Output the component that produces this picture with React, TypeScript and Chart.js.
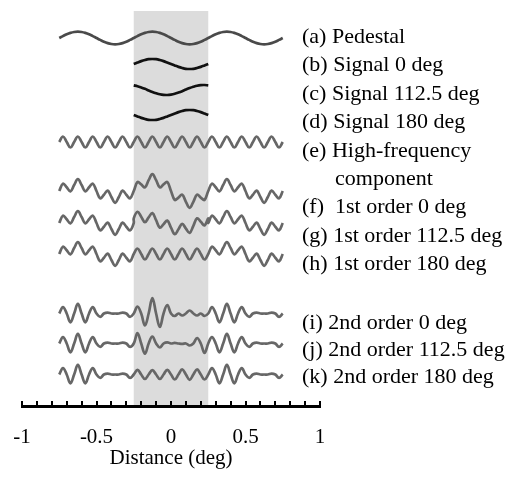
import { useEffect, useRef } from "react";
import { Chart, registerables } from "chart.js";

Chart.register(...registerables);

// x positions of the samples (deg)
const sampleX = [-0.75,-0.725,-0.7,-0.675,-0.65,-0.625,-0.6,-0.575,-0.55,-0.525,-0.5,-0.475,-0.45,-0.425,-0.4,-0.375,-0.35,-0.325,-0.3,-0.275,-0.25,-0.225,-0.2,-0.175,-0.15,-0.125,-0.1,-0.075,-0.05,-0.025,0,0.025,0.05,0.075,0.1,0.125,0.15,0.175,0.2,0.225,0.25,0.275,0.3,0.325,0.35,0.375,0.4,0.425,0.45,0.475,0.5,0.525,0.55,0.575,0.6,0.625,0.65,0.675,0.7,0.725,0.75];
const signalX = [-0.25,-0.225,-0.2,-0.175,-0.15,-0.125,-0.1,-0.075,-0.05,-0.025,0,0.025,0.05,0.075,0.1,0.125,0.15,0.175,0.2,0.225,0.25];
const first112X = [-0.75,-0.725,-0.7,-0.675,-0.65,-0.625,-0.6,-0.575,-0.55,-0.525,-0.5,-0.475,-0.45,-0.425,-0.4,-0.375,-0.35,-0.325,-0.3,-0.275,-0.25,
  -0.25,-0.225,-0.2,-0.175,-0.15,-0.125,-0.1,-0.075,-0.05,-0.025,0,0.025,0.05,0.075,0.1,0.125,0.15,0.175,0.2,0.225,0.25,
  0.25,0.275,0.3,0.325,0.35,0.375,0.4,0.425,0.45,0.475,0.5,0.525,0.55,0.575,0.6,0.625,0.65,0.675,0.7,0.725,0.75];

// (a) pedestal
const pedestal = [0,1.9,3.7,5.1,6.0,6.3,6.0,5.1,3.7,1.9,0,-1.9,-3.7,-5.1,-6.0,-6.3,-6.0,-5.1,-3.7,-1.9,
  0,1.9,3.7,5.1,6.0,6.3,6.0,5.1,3.7,1.9,0,-1.9,-3.7,-5.1,-6.0,-6.3,-6.0,-5.1,-3.7,-1.9,
  0,1.9,3.7,5.1,6.0,6.3,6.0,5.1,3.7,1.9,0,-1.9,-3.7,-5.1,-6.0,-6.3,-6.0,-5.1,-3.7,-1.9,0];
// (b)-(d) signals
const signal0 = [0,1.5,2.9,4.0,4.8,5.0,4.8,4.0,2.9,1.5,0,-1.5,-2.9,-4.0,-4.8,-5.0,-4.8,-4.0,-2.9,-1.5,0];
const signal112 = [4.6,3.8,2.6,1.2,-0.4,-1.9,-3.2,-4.3,-4.9,-5.0,-4.6,-3.8,-2.6,-1.2,0.4,1.9,3.2,4.3,4.9,5.0,4.6];
const signal180 = [0,-1.5,-2.9,-4.0,-4.8,-5.0,-4.8,-4.0,-2.9,-1.5,0,1.5,2.9,4.0,4.8,5.0,4.8,4.0,2.9,1.5,0];
// (e) high-frequency component
const highFreq = [0,5.5,0,-5.5,0,5.5,0,-5.5,0,5.5,0,-5.5,0,5.5,0,-5.5,0,5.5,0,-5.5,
  0,5.5,0,-5.5,0,5.5,0,-5.5,0,5.5,0,-5.5,0,5.5,0,-5.5,0,5.5,0,-5.5,
  0,5.5,0,-5.5,0,5.5,0,-5.5,0,5.5,0,-5.5,0,5.5,0,-5.5,0,5.5,0,-5.5,0];
// (f)-(h) first order
const first0 = [0,7.4,3.7,-0.4,6.0,11.8,6.0,-0.4,3.7,7.4,0,-7.4,-3.7,0.4,-6.0,-11.8,-6.0,0.4,-3.7,-7.4,
  0,8.9,6.6,3.6,10.8,16.8,10.8,3.6,6.6,8.9,0,-8.9,-6.6,-3.6,-10.8,-16.8,-10.8,-3.6,-6.6,-8.9,
  0,7.4,3.7,-0.4,6.0,11.8,6.0,-0.4,3.7,7.4,0,-7.4,-3.7,0.4,-6.0,-11.8,-6.0,0.4,-3.7,-7.4,0];
const first112 = [0,7.4,3.7,-0.4,6.0,11.8,6.0,-0.4,3.7,7.4,0,-7.4,-3.7,0.4,-6.0,-11.8,-6.0,0.4,-3.7,-7.4,0,
  4.6,11.2,6.3,0.8,5.6,9.9,2.8,-4.7,-1.2,2.4,-4.6,-11.2,-6.3,-0.8,-5.6,-9.9,-2.8,4.7,1.2,-2.4,4.6,
  0,7.4,3.7,-0.4,6.0,11.8,6.0,-0.4,3.7,7.4,0,-7.4,-3.7,0.4,-6.0,-11.8,-6.0,0.4,-3.7,-7.4,0];
const first180 = [0,7.4,3.7,-0.4,6.0,11.8,6.0,-0.4,3.7,7.4,0,-7.4,-3.7,0.4,-6.0,-11.8,-6.0,0.4,-3.7,-7.4,
  0,5.5,0,-5.5,0,5.5,0,-5.5,0,5.5,0,-5.5,0,5.5,0,-5.5,0,5.5,0,-5.5,
  0,7.4,3.7,-0.4,6.0,11.8,6.0,-0.4,3.7,7.4,0,-7.4,-3.7,0.4,-6.0,-11.8,-6.0,0.4,-3.7,-7.4,0];
// (i)-(k) second order
const second0 = [0,6.4,0,-8.8,0,9.7,0,-8.8,0,6.4,0,-3.4,0,0.9,0,0,0,0.9,0,-3.4,
  0,7,0,-12,0,15.5,0,-13.5,0,8.5,0,-2.5,0,-2,0,3,0,-2,0,-2.5,
  0,6.4,0,-8.8,0,9.7,0,-8.8,0,6.4,0,-3.4,0,0.9,0,0,0,0.9,0,-3.4,0];
const second112 = [0,6.4,0,-8.8,0,9.7,0,-8.8,0,6.4,0,-3.4,0,0.9,0,0,0,0.9,0,-3.4,
  0,10.5,0,-10.2,0,7,0,-4,0,1.2,0,0.6,0,-0.4,0,-2,0,5.5,0,-9.5,
  0,6.4,0,-8.8,0,9.7,0,-8.8,0,6.4,0,-3.4,0,0.9,0,0,0,0.9,0,-3.4,0];
const second180 = [0,6.4,0,-8.8,0,9.7,0,-8.8,0,6.4,0,-3.4,0,0.9,0,0,0,0.9,0,-3.4,
  0,4.7,0,-4.5,0,4.4,0,-4.5,0,4.7,0,-5,0,5.2,0,-5.3,0,5.2,0,-5,
  0,6.4,0,-8.8,0,9.7,0,-8.8,0,6.4,0,-3.4,0,0.9,0,0,0,0.9,0,-3.4,0];

// row levels on the (hidden) vertical scale
const rowLevels = [368, 342, 316, 291, 264, 215, 183, 152, 92.5, 62.5, 31.5];

const seriesLabels = [
  "(a) Pedestal",
  "(b) Signal 0 deg",
  "(c) Signal 112.5 deg",
  "(d) Signal 180 deg",
  "(e) High-frequency",
  "component",
  "(f)  1st order 0 deg",
  "(g) 1st order 112.5 deg",
  "(h) 1st order 180 deg",
  "(i) 2nd order 0 deg",
  "(j) 2nd order 112.5 deg",
  "(k) 2nd order 180 deg",
];

const tickValues = [-1, -0.5, 0, 0.5, 1];
const tickLabels = ["-1", "-0.5", "0", "0.5", "1"];
const signalBand = [-0.25, 0.25];

const SERIF = '"Liberation Serif", "Times New Roman", Times, serif';

export default function App() {
  const ref = useRef<HTMLCanvasElement>(null);

  useEffect(() => {
    if (!ref.current) return;
    const PED = "#4a4a4a";
    const SIG = "#111111";
    const HF = "#676767";
    const series = [
      { xs: sampleX, ys: pedestal, color: PED },
      { xs: signalX, ys: signal0, color: SIG },
      { xs: signalX, ys: signal112, color: SIG },
      { xs: signalX, ys: signal180, color: SIG },
      { xs: sampleX, ys: highFreq, color: HF },
      { xs: sampleX, ys: first0, color: HF },
      { xs: first112X, ys: first112, color: HF },
      { xs: sampleX, ys: first180, color: HF },
      { xs: sampleX, ys: second0, color: HF },
      { xs: sampleX, ys: second112, color: HF },
      { xs: sampleX, ys: second180, color: HF },
    ];

    const bandPlugin = {
      id: "band",
      beforeDraw(chart: any) {
        const { ctx, chartArea, scales } = chart;
        const x0 = scales.x.getPixelForValue(signalBand[0]);
        const x1 = scales.x.getPixelForValue(signalBand[1]);
        ctx.save();
        ctx.fillStyle = "#dcdcdc";
        ctx.fillRect(x0, chartArea.top, x1 - x0, chartArea.bottom - chartArea.top);
        ctx.restore();
      },
    };

    const labelPos = [
      [302, 43], [302, 71], [302, 100], [302, 128], [302, 157], [335, 185],
      [302, 213], [302, 242], [302, 270], [302, 329], [302, 356], [302, 383],
    ];
    const labelPlugin = {
      id: "rowLabels",
      afterDraw(chart: any) {
        const { ctx } = chart;
        ctx.save();
        ctx.fillStyle = "#000";
        ctx.font = `22px ${SERIF}`;
        ctx.textAlign = "left";
        ctx.textBaseline = "alphabetic";
        seriesLabels.forEach((t, i) => ctx.fillText(t, labelPos[i][0], labelPos[i][1]));
        ctx.restore();
      },
    };

    const chart = new Chart(ref.current, {
      type: "line",
      data: {
        datasets: series.map((s, i) => ({
          data: s.xs.map((x, j) => ({ x, y: rowLevels[i] + s.ys[j] })),
          borderColor: s.color,
          borderWidth: 2.7,
          pointRadius: 0,
          tension: 0.4,
          fill: false,
        })),
      },
      options: {
        animation: false,
        responsive: false,
        devicePixelRatio: 1,
        layout: { padding: { left: 22, right: 196, top: 11, bottom: 8.5 } },
        plugins: { legend: { display: false }, tooltip: { enabled: false } },
        scales: {
          x: {
            type: "linear",
            min: -1,
            max: 1,
            ticks: {
              stepSize: 0.1,
              autoSkip: false,
              maxRotation: 0,
              padding: 12,
              color: "#000",
              font: { family: SERIF, size: 21, lineHeight: 48 / 21 },
              callback: (v: any) => {
                const i = tickValues.findIndex((t) => Math.abs(t - Number(v)) < 1e-6);
                return i >= 0 ? tickLabels[i] : "";
              },
            },
            grid: {
              display: true,
              drawOnChartArea: false,
              drawTicks: true,
              tickLength: -5,
              color: "#000",
              lineWidth: 2,
            },
            border: { display: true, color: "#000", width: 3 },
            title: {
              display: true,
              text: "Distance (deg)",
              color: "#000",
              font: { family: SERIF, size: 21, lineHeight: 1 },
              padding: { top: -25.5, bottom: 0 },
            },
          },
          y: { type: "linear", display: false, min: 0, max: 395 },
        },
      },
      plugins: [bandPlugin, labelPlugin],
    });
    return () => chart.destroy();
  }, []);

  return (
    <div style={{ position: "absolute", left: 0, top: 0, width: 516, height: 477, background: "#fff" }}>
      <canvas ref={ref} width={516} height={477} style={{ display: "block" }} />
    </div>
  );
}
